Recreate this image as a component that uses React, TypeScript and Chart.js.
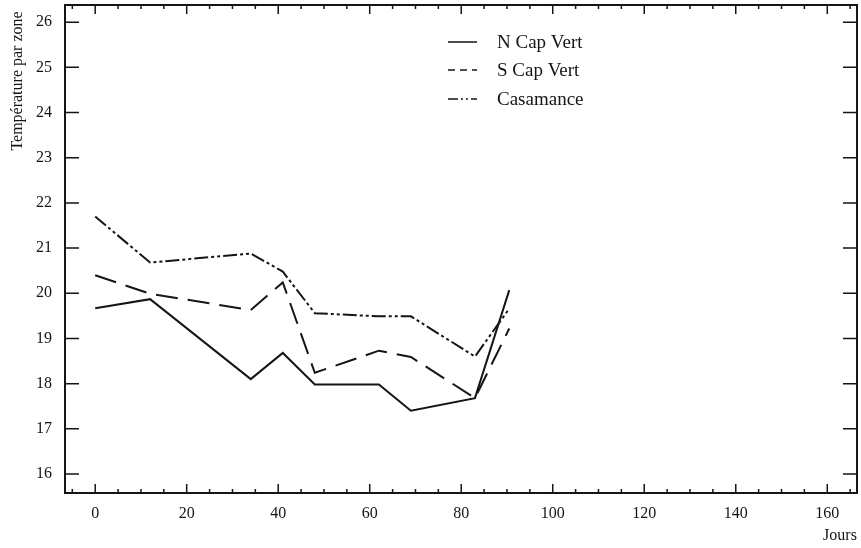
import React, { useEffect, useRef } from "react";
import { Chart, registerables } from "chart.js";

Chart.register(...registerables);

const days = [0, 12, 34, 41, 48, 62, 69, 83, 90.5];
const nCapVert = [19.67, 19.87, 18.1, 18.68, 17.98, 17.98, 17.4, 17.68, 20.07];
const sCapVert = [20.4, 19.99, 19.63, 20.24, 18.24, 18.73, 18.59, 17.68, 19.22];
const casamance = [21.7, 20.68, 20.88, 20.48, 19.56, 19.49, 19.49, 18.6, 19.66];

const seriesNames = ["N Cap Vert", "S Cap Vert", "Casamance"];
const xTicks = [0, 20, 40, 60, 80, 100, 120, 140, 160];
const yTicks = [16, 17, 18, 19, 20, 21, 22, 23, 24, 25, 26];
const xMinor = [-5, 5, 10, 15, 25, 30, 35, 45, 50, 55, 65, 70, 75, 85, 90, 95, 105, 110, 115, 125, 130, 135, 145, 150, 155, 165];
const yTitle = "Température par zone";
const xTitle = "Jours";

const dashes: number[][] = [[], [22, 10], [14, 3, 3, 3, 3, 3]];
const legendDashes: number[][] = [[], [7, 5], [10, 3, 2, 3, 2, 3]];
const INK = "#151515";
const FONT = "'Liberation Serif', 'DejaVu Serif', serif";

export default function App() {
  const ref = useRef<HTMLCanvasElement | null>(null);

  useEffect(() => {
    if (!ref.current) return;
    const all = [nCapVert, sCapVert, casamance];

    const framePlugin = {
      id: "frame",
      afterDraw(chart: any) {
        const { ctx, chartArea } = chart;
        const xs = chart.scales.x;
        const ys = chart.scales.y;
        const { left, right, top, bottom } = chartArea;
        ctx.save();
        ctx.strokeStyle = INK;
        ctx.lineWidth = 2;
        ctx.setLineDash([]);
        ctx.strokeRect(left, top, right - left, bottom - top);
        ctx.lineWidth = 1.5;
        ctx.beginPath();
        yTicks.forEach((v) => {
          const p = ys.getPixelForValue(v);
          ctx.moveTo(left, p);
          ctx.lineTo(left + 14, p);
          ctx.moveTo(right, p);
          ctx.lineTo(right - 14, p);
        });
        xTicks.forEach((v) => {
          const p = xs.getPixelForValue(v);
          ctx.moveTo(p, bottom);
          ctx.lineTo(p, bottom - 9);
          ctx.moveTo(p, top);
          ctx.lineTo(p, top + 9);
        });
        xMinor.forEach((v) => {
          const p = xs.getPixelForValue(v);
          ctx.moveTo(p, bottom);
          ctx.lineTo(p, bottom - 4);
          ctx.moveTo(p, top);
          ctx.lineTo(p, top + 4);
        });
        ctx.stroke();

        // axis titles
        ctx.fillStyle = INK;
        ctx.font = `16px ${FONT}`;
        ctx.textAlign = "center";
        ctx.textBaseline = "middle";
        ctx.save();
        ctx.translate(18, 81);
        ctx.rotate(-Math.PI / 2);
        ctx.fillText(yTitle, 0, 0);
        ctx.restore();
        ctx.fillText(xTitle, 840, 536);

        // legend
        ctx.font = `19px ${FONT}`;
        ctx.textAlign = "left";
        const rows = [42, 70, 99];
        seriesNames.forEach((name, i) => {
          const y = rows[i];
          ctx.lineWidth = 1.5;
          ctx.setLineDash(legendDashes[i]);
          ctx.beginPath();
          ctx.moveTo(448, y);
          ctx.lineTo(477, y);
          ctx.stroke();
          ctx.setLineDash([]);
          ctx.fillText(name, 497, y + 1);
        });
        ctx.restore();
      },
    };

    const chart = new Chart(ref.current, {
      type: "line",
      data: {
        datasets: all.map((vals, i) => ({
          label: seriesNames[i],
          data: days.map((d, j) => ({ x: d, y: vals[j] })),
          borderColor: INK,
          borderWidth: 2,
          borderDash: dashes[i],
          pointRadius: 0,
          tension: 0,
          fill: false,
        })),
      },
      options: {
        responsive: false,
        animation: false,
        maintainAspectRatio: false,
        layout: { padding: { top: 5, right: 4, left: 0, bottom: 0 } },
        plugins: { legend: { display: false }, tooltip: { enabled: false } },
        scales: {
          x: {
            type: "linear",
            min: -6.6,
            max: 166.5,
            grid: { display: false, drawTicks: false },
            border: { display: false },
            afterBuildTicks: (s: any) => {
              s.ticks = xTicks.map((v) => ({ value: v }));
            },
            afterFit: (s: any) => {
              s.height = 55;
              s.paddingLeft = 0;
              s.paddingRight = 0;
            },
            ticks: {
              color: INK,
              padding: 11,
              maxRotation: 0,
              autoSkip: false,
              font: { family: FONT, size: 16 },
            },
          },
          y: {
            type: "linear",
            min: 15.58,
            max: 26.38,
            grid: { display: false, drawTicks: false },
            border: { display: false },
            afterBuildTicks: (s: any) => {
              s.ticks = yTicks.map((v) => ({ value: v }));
            },
            afterFit: (s: any) => {
              s.width = 65;
              s.paddingTop = 0;
              s.paddingBottom = 0;
            },
            ticks: {
              color: INK,
              padding: 13,
              autoSkip: false,
              font: { family: FONT, size: 16 },
            },
          },
        },
      },
      plugins: [framePlugin],
    });
    return () => chart.destroy();
  }, []);

  return (
    <div style={{ position: "fixed", left: 0, top: 0, width: 861, height: 548, background: "#fff" }}>
      <canvas ref={ref} width={861} height={548} style={{ width: 861, height: 548 }} />
    </div>
  );
}
